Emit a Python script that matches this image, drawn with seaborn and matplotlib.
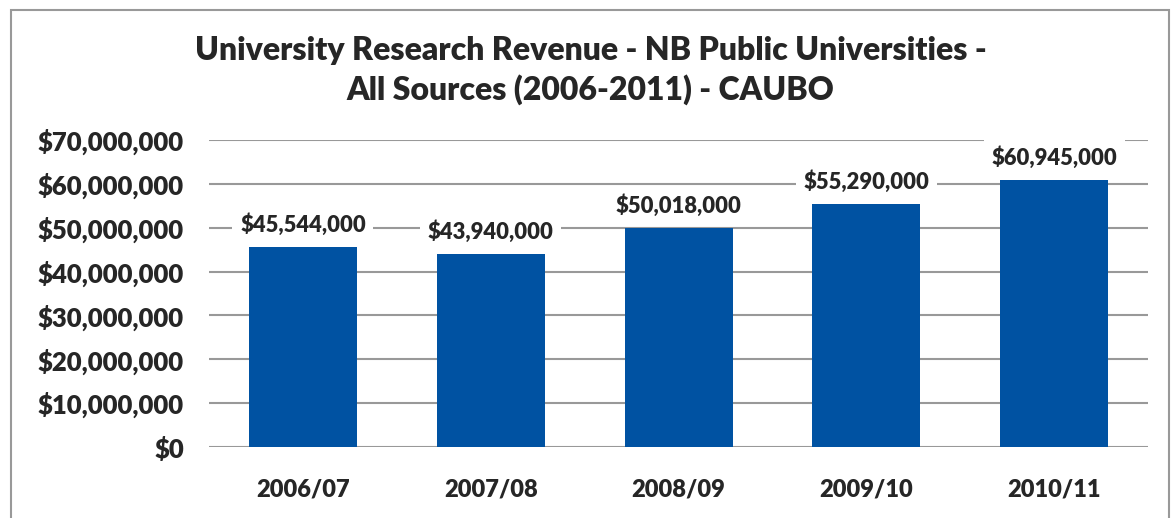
import matplotlib
matplotlib.use("Agg")
import matplotlib.pyplot as plt
import seaborn as sns
import pandas as pd
from matplotlib.patches import Rectangle
from matplotlib.ticker import FuncFormatter

categories = ["2006/07", "2007/08", "2008/09", "2009/10", "2010/11"]
revenue = [45544000, 43940000, 50018000, 55290000, 60945000]
title = "University Research Revenue - NB Public Universities -\nAll Sources (2006-2011) - CAUBO"

sns.set_theme(style="white")
plt.rcParams['font.family'] = ['Lato', 'DejaVu Sans']
W = "heavy"

df = pd.DataFrame({"year": categories, "revenue": revenue})

fig = plt.figure(figsize=(11.74, 5.18), dpi=100)
ax = fig.add_axes([0.178, 0.137, 0.8, 0.593])
sns.barplot(data=df, x="year", y="revenue", color="#0052A2", saturation=1,
            width=0.575, ax=ax, zorder=2, linewidth=0)

ax.set_ylim(0, 70000000)
ax.set_yticks(range(0, 70000001, 10000000))
ax.yaxis.set_major_formatter(FuncFormatter(lambda v, p: f"${v:,.0f}"))
ax.grid(axis="y", color="#999999", linewidth=1.5, zorder=0)
ax.set_axisbelow(True)
for s in ax.spines.values():
    s.set_visible(False)
ax.set_xlabel("")
ax.set_ylabel("")
ax.tick_params(axis="y", length=0, pad=18, labelsize=18.5)
ax.tick_params(axis="x", length=0, pad=23, labelsize=17)
for lab in ax.get_yticklabels() + ax.get_xticklabels():
    lab.set_fontweight(W)
ax.set_xlim(-0.5, 4.5)

for i, v in enumerate(revenue):
    ax.annotate(f"${v:,.0f}", (i, v), xytext=(0, 8), textcoords="offset points",
                ha="center", va="bottom", fontsize=15.8, fontweight=W,
                bbox=dict(boxstyle="square,pad=0.35", fc="white", ec="none"), zorder=3)

fig.text(0.503, 0.864, title, ha="center", va="center", fontsize=23,
         fontweight=W, linespacing=1.38)

fig.patches.append(Rectangle((11/1174, -0.1), (1169-11)/1174, 1.1 - 10/518,
                             transform=fig.transFigure, fill=False,
                             edgecolor="#999999", linewidth=1.5))

fig.savefig("out.png", dpi=100)
